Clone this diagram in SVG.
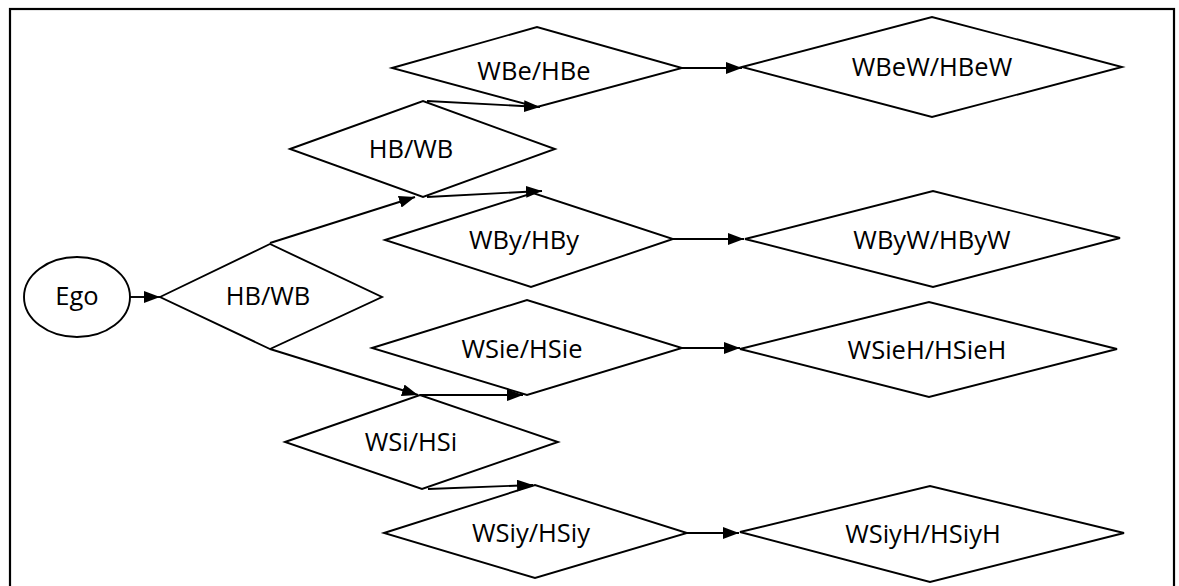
<svg xmlns="http://www.w3.org/2000/svg" width="1179" height="586" viewBox="0 0 1179 586">
  <style>
    .shape { fill: #ffffff; stroke: #000000; stroke-width: 1.9; stroke-linejoin: miter; }
    .edge { fill: none; stroke: #000000; stroke-width: 1.9; marker-end: url(#arrow); }
    .label { font-family: "Open Sans", "Noto Sans", "Liberation Sans", sans-serif; font-size: 25.5px; fill: #000000; text-anchor: middle; }
    .frame { fill: none; stroke: #000000; stroke-width: 2.2; }
  </style>
  <defs>
    <marker id="arrow" markerUnits="userSpaceOnUse" markerWidth="16" markerHeight="12" refX="16" refY="6" orient="auto">
      <path d="M0,0 L16,6 L0,12 z" fill="#000000"/>
    </marker>
  </defs>

  <rect class="frame" x="10" y="9" width="1164" height="590"/>

  <g id="ego">
    <ellipse class="shape" cx="77" cy="297" rx="53" ry="40"/>
    <text class="label" x="77" y="305">Ego</text>
  </g>

  <g id="hb-wb-1">
    <polygon class="shape" points="160,297 270,244 382,297 270,349"/>
    <text class="label" x="268" y="305">HB/WB</text>
  </g>

  <g id="hb-wb-2">
    <polygon class="shape" points="290,149 423,101 555,149 423,197"/>
    <text class="label" x="411" y="158">HB/WB</text>
  </g>

  <g id="wbe-hbe">
    <polygon class="shape" points="392,68 537,27 682,68 537,107"/>
    <text class="label" x="534" y="80">WBe/HBe</text>
  </g>

  <g id="wbew-hbew">
    <polygon class="shape" points="742,67 932,17 1122,67 932,117"/>
    <text class="label" x="932" y="76">WBeW/HBeW</text>
  </g>

  <g id="wby-hby">
    <polygon class="shape" points="385,240 533,193 673,239 531,287"/>
    <text class="label" x="524" y="249">WBy/HBy</text>
  </g>

  <g id="wbyw-hbyw">
    <polygon class="shape" points="745,239 933,191 1120,238 933,287"/>
    <text class="label" x="932" y="249">WByW/HByW</text>
  </g>

  <g id="wsie-hsie">
    <polygon class="shape" points="372,348 527,300 682,348 527,395"/>
    <text class="label" x="522" y="358">WSie/HSie</text>
  </g>

  <g id="wsieh-hsieh">
    <polygon class="shape" points="740,349 929,302 1117,349 929,397"/>
    <text class="label" x="927" y="359">WSieH/HSieH</text>
  </g>

  <g id="wsi-hsi">
    <polygon class="shape" points="285,442 420,395 558,442 422,489"/>
    <text class="label" x="411" y="451">WSi/HSi</text>
  </g>

  <g id="wsiy-hsiy">
    <polygon class="shape" points="384,533 535,485 687,533 535,578"/>
    <text class="label" x="531" y="542">WSiy/HSiy</text>
  </g>

  <g id="wsiyh-hsiyh">
    <polygon class="shape" points="740,532 930,486 1124,533 930,582"/>
    <text class="label" x="923" y="543">WSiyH/HSiyH</text>
  </g>

  <g id="connectors">
    <line class="edge" x1="130" y1="297" x2="160" y2="297"/>
    <line class="edge" x1="270" y1="243" x2="415" y2="197"/>
    <line class="edge" x1="270" y1="349" x2="418" y2="395"/>
    <line class="edge" x1="427" y1="101" x2="540" y2="107"/>
    <line class="edge" x1="427" y1="197" x2="542" y2="191"/>
    <line class="edge" x1="420" y1="395" x2="523" y2="395"/>
    <line class="edge" x1="428" y1="489" x2="533" y2="485"/>
    <line class="edge" x1="682" y1="68" x2="742" y2="68"/>
    <line class="edge" x1="673" y1="239" x2="744" y2="239"/>
    <line class="edge" x1="682" y1="348" x2="740" y2="348"/>
    <line class="edge" x1="687" y1="533" x2="739" y2="533"/>
  </g>
</svg>
